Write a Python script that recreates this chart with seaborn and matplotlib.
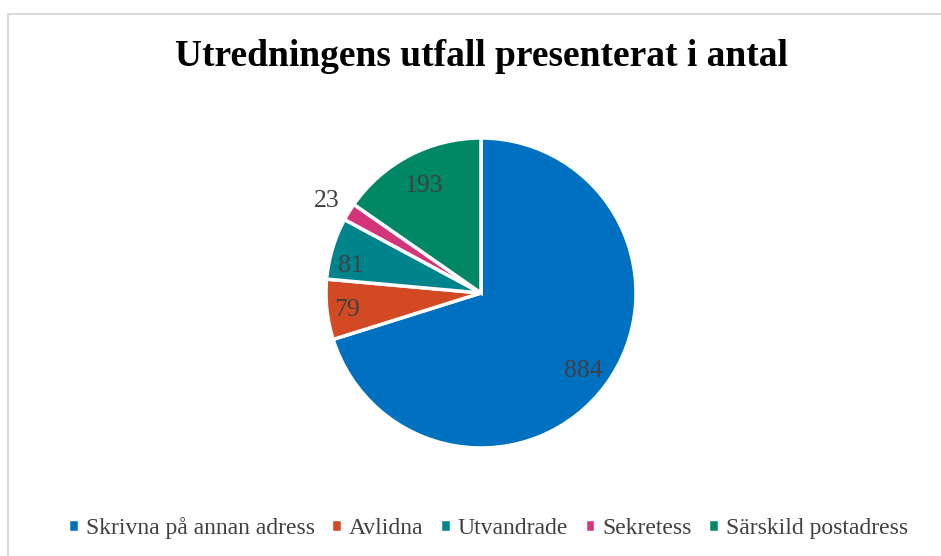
import numpy as np
import matplotlib
matplotlib.use("Agg")
import matplotlib.pyplot as plt
import seaborn as sns

# utfall per kategori
kategorier = ['Skrivna på annan adress', 'Avlidna', 'Utvandrade', 'Sekretess', 'Särskild postadress']
antal = [884, 79, 81, 23, 193]
farger = ['#0070C0', '#D14A24', '#00848C', '#D4357A', '#008765']
# avstånd för etiketterna (andel av radien)
etikett_avstand = [0.82, 0.87, 0.86, 1.17, 0.80]

sns.set_theme(style="white")
plt.rcParams['font.family'] = ['Liberation Serif', 'DejaVu Serif']

fig = plt.figure(figsize=(9.41, 5.56), dpi=100)
ax = fig.add_axes([(481 - 155) / 941, (263 - 155) / 556, 310 / 941, 310 / 556])

wedges, _ = ax.pie(antal, colors=farger, startangle=90, counterclock=False,
                   wedgeprops=dict(edgecolor='white', linewidth=2.5))
ax.set_xlim(-1, 1)
ax.set_ylim(-1, 1)
ax.set_aspect('equal')

for w, n, r in zip(wedges, antal, etikett_avstand):
    mitt = np.deg2rad((w.theta1 + w.theta2) / 2)
    # Utvandrade-etiketten sitter lite lägre i originalet
    if n == 81:
        mitt += np.deg2rad(4)
    ax.text(r * np.cos(mitt), r * np.sin(mitt), str(n), ha='center', va='center_baseline',
            fontsize=18.5, color='#404040', family='Liberation Serif', clip_on=False)

fig.text(481 / 941, 1 - 57 / 556, 'Utredningens utfall presenterat i antal', ha='center', va='center',
         fontsize=27, fontweight='bold', color='black', family='Liberation Serif')

fig.legend(wedges, kategorier, loc='center', bbox_to_anchor=(488 / 941, 1 - 528 / 556), ncol=5,
           frameon=False, prop=dict(family='Liberation Serif', size=17), handlelength=0.45,
           handleheight=0.45, handletextpad=0.3, columnspacing=0.7, labelcolor='#404040')

# ram runt diagrammet
fig.add_artist(plt.Line2D([8 / 941, 8 / 941], [0, 1 - 14 / 556], transform=fig.transFigure,
                          color='#D9D9D9', linewidth=1.5))
fig.add_artist(plt.Line2D([8 / 941, 1], [1 - 14 / 556, 1 - 14 / 556], transform=fig.transFigure,
                          color='#D9D9D9', linewidth=1.5))

fig.savefig('out.png', dpi=100)
